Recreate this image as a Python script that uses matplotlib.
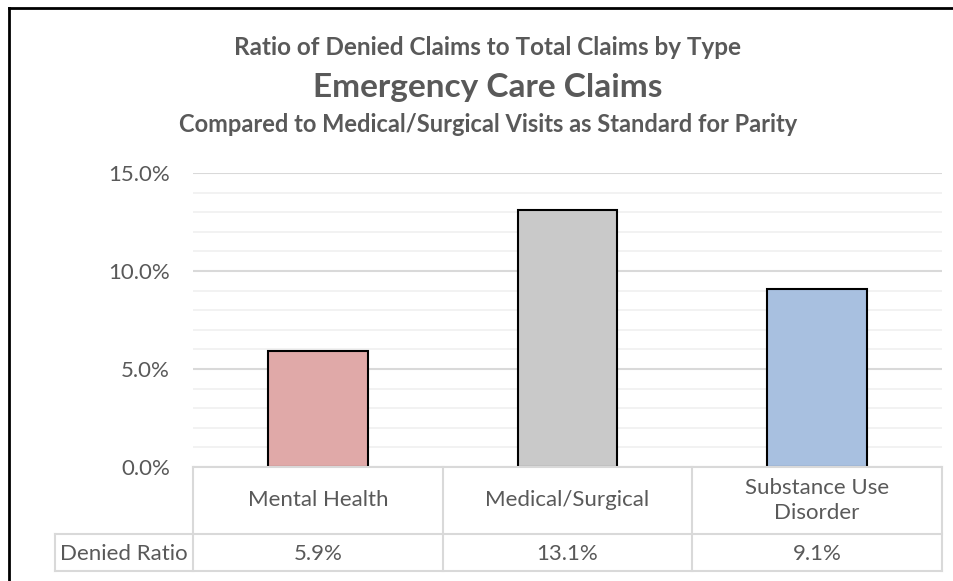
import matplotlib
matplotlib.use("Agg")
import matplotlib.pyplot as plt
from matplotlib.lines import Line2D
import numpy as np

categories = ["Mental Health", "Medical/Surgical", "Substance Use\nDisorder"]
denied_ratio = [5.9, 13.1, 9.1]
row_label = "Denied Ratio"
bar_colors = ["#E0A9A8", "#C9C9C9", "#A8C0E0"]
yticks = [0, 5, 10, 15]
title1 = "Ratio of Denied Claims to Total Claims by Type"
title2 = "Emergency Care Claims"
title3 = "Compared to Medical/Surgical Visits as Standard for Parity"

plt.rcParams['font.family'] = ['Lato', 'DejaVu Sans']
txt = "#595959"
W, H = 954, 581
fig = plt.figure(figsize=(W / 100, H / 100), dpi=100)

def fx(px):
    return px / W

def fy(py):
    return 1 - py / H

# outer border (top and left visible)
fig.add_artist(Line2D([fx(9), fx(9)], [fy(8), 0], transform=fig.transFigure, color="black", lw=2))
fig.add_artist(Line2D([fx(9), 1], [fy(8), fy(8)], transform=fig.transFigure, color="black", lw=2))

left, right, top, bottom = 193, 942, 173, 467
ax = fig.add_axes([fx(left), fy(bottom), fx(right - left), fy(top) - fy(bottom)])
x = np.arange(len(categories))
ax.bar(x, denied_ratio, width=0.4, color=bar_colors, edgecolor="black", linewidth=1.5, zorder=3)
ax.set_xlim(-0.5, len(categories) - 0.5)
ax.set_ylim(0, 15)
ax.set_yticks(yticks)
ax.set_yticklabels([f"{v:.1f}%" for v in yticks], color=txt, fontsize=16)
for lab in ax.get_yticklabels():
    lab.set_verticalalignment("center_baseline")
ax.set_yticks(np.arange(0, 15.01, 1), minor=True)
ax.tick_params(axis="y", which="both", length=0, pad=16.5)
ax.set_xticks([])
ax.grid(axis="y", which="minor", color="#F0F0F0", lw=1.2, zorder=0)
ax.grid(axis="y", which="major", color="#D9D9D9", lw=1.5, zorder=0)
for s in ax.spines.values():
    s.set_visible(False)

# table
lc = "#D9D9D9"
ncat = len(categories)
colw = (right - left) / ncat
row1_bot, row2_bot = 534, 571
label_left = 55
def hline(x0, x1, y):
    fig.add_artist(Line2D([fx(x0), fx(x1)], [fy(y), fy(y)], transform=fig.transFigure, color=lc, lw=1.5))
def vline(xx, y0, y1):
    fig.add_artist(Line2D([fx(xx), fx(xx)], [fy(y0), fy(y1)], transform=fig.transFigure, color=lc, lw=1.5))
hline(left, right, bottom)
hline(label_left, right, row1_bot)
hline(label_left, right, row2_bot)
for i in range(ncat + 1):
    vline(left + i * colw, bottom, row2_bot)
vline(label_left, row1_bot, row2_bot)
for i, (c, v) in enumerate(zip(categories, denied_ratio)):
    cx = left + (i + 0.5) * colw
    fig.text(fx(cx), fy((bottom + row1_bot) / 2), c, ha="center", va="center",
             color=txt, fontsize=16, linespacing=1.3)
    fig.text(fx(cx), fy((row1_bot + row2_bot) / 2), f"{v:.1f}%", ha="center", va="center_baseline",
             color=txt, fontsize=16)
fig.text(fx((label_left + left) / 2), fy((row1_bot + row2_bot) / 2), row_label, ha="center",
         va="center_baseline", color=txt, fontsize=16)

# titles
cxt = fx(488)
fig.text(cxt, fy(55), title1, ha="center", va="baseline", color=txt, fontsize=17.5, fontweight="bold")
fig.text(cxt, fy(97), title2, ha="center", va="baseline", color=txt, fontsize=24, fontweight="bold")
fig.text(cxt, fy(132), title3, ha="center", va="baseline", color=txt, fontsize=17, fontweight="bold")

fig.savefig("out.png", dpi=100, facecolor="white")
